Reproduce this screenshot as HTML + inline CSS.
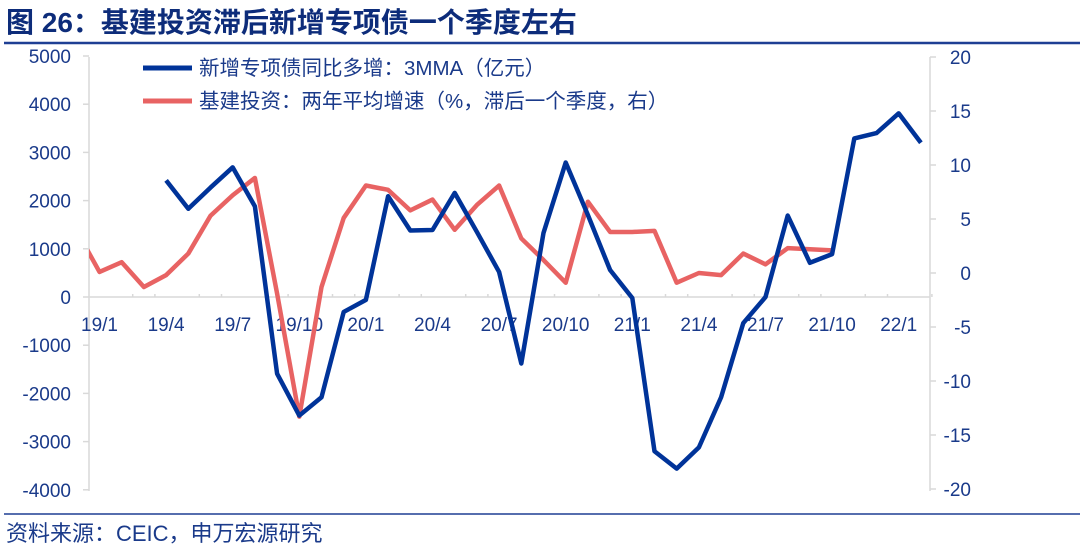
<!DOCTYPE html>
<html><head><meta charset="utf-8">
<style>
body{margin:0;background:#fff;}
svg{display:block;font-family:"Liberation Sans","Noto Sans CJK SC",sans-serif;}
</style></head>
<body>
<svg id="chart" width="1080" height="550" viewBox="0 0 1080 550">
<text x="6" y="32" font-size="28" font-weight="bold" fill="#0d2c7a">图 26：基建投资滞后新增专项债一个季度左右</text>
<line x1="4" y1="43" x2="1080" y2="43" stroke="#1e3f94" stroke-width="2.5"/>
<line x1="89" y1="57" x2="89" y2="491" stroke="#d9d9d9" stroke-width="1.5"/>
<line x1="930" y1="57" x2="930" y2="491" stroke="#d9d9d9" stroke-width="1.5"/>
<g id="ticks"></g>
<g id="series"></g>
<line x1="143" y1="68" x2="192" y2="68" stroke="#003399" stroke-width="5"/>
<text x="199" y="75" font-size="20.5" fill="#1a3a8a">新增专项债同比多增：3MMA（亿元）</text>
<line x1="143" y1="101" x2="192" y2="101" stroke="#e86363" stroke-width="5"/>
<text x="199" y="108" font-size="20.5" fill="#1a3a8a">基建投资：两年平均增速（%，滞后一个季度，右）</text>
<line x1="4" y1="514" x2="1080" y2="514" stroke="#1e3f94" stroke-width="1.5"/>
<text x="6" y="541" font-size="22" fill="#1a3a8a">资料来源：CEIC，申万宏源研究</text>
</svg>
<script>
const months=["19/1","19/2","19/3","19/4","19/5","19/6","19/7","19/8","19/9","19/10","19/11","19/12","20/1","20/2","20/3","20/4","20/5","20/6","20/7","20/8","20/9","20/10","20/11","20/12","21/1","21/2","21/3","21/4","21/5","21/6","21/7","21/8","21/9","21/10","21/11","21/12","22/1","22/2"];
const xLabels=["19/1","19/4","19/7","19/10","20/1","20/4","20/7","20/10","21/1","21/4","21/7","21/10","22/1"];
const leftTicks=[5000,4000,3000,2000,1000,0,-1000,-2000,-3000,-4000];
const rightTicks=[20,15,10,5,0,-5,-10,-15,-20];
const bondValues=[null,null,null,2420,1830,2270,2690,1880,-1590,-2460,-2080,-310,-60,2090,1380,1390,2160,1350,520,-1380,1330,2790,1700,560,-20,-3200,-3560,-3120,-2080,-540,0,1690,710,890,3290,3400,3810,3200];
const infraPrev=3.8;
const infraValues=[0.1,1.0,-1.3,-0.2,1.8,5.3,7.2,8.8,-1.9,-13.3,-1.3,5.1,8.1,7.7,5.8,6.8,4.0,6.3,8.1,3.2,1.2,-0.9,6.6,3.8,3.8,3.9,-0.9,0,-0.2,1.8,0.8,2.3,2.2,2.1];
const NS="http://www.w3.org/2000/svg";
const X0=89,X1=930,step=22.2,firstX=99.5;
function xAt(i){return firstX+i*step;}
function yL(v){return 297-v*0.0482;}
function yR(v){return 273-v*10.8;}
const tg=document.getElementById('ticks'), sg=document.getElementById('series');
function mk(tag,attrs,parent){const e=document.createElementNS(NS,tag);for(const k in attrs)e.setAttribute(k,attrs[k]);parent.appendChild(e);return e;}
let el=mk('line',{x1:X0,y1:yL(0),x2:X1,y2:yL(0),stroke:'#d9d9d9','stroke-width':1.5},tg);


leftTicks.forEach(v=>{
  let t=mk('line',{x1:X0-6,y1:yL(v),x2:X0,y2:yL(v),stroke:'#d9d9d9','stroke-width':1.5},tg);
  
  
  let tx=mk('text',{x:71,y:yL(v)+7,'font-size':19,fill:'#1a3a8a','text-anchor':'end'},tg);
  tx.textContent=v;
  
  
});
rightTicks.forEach(v=>{
  let t=mk('line',{x1:X1,y1:yR(v),x2:X1+6,y2:yR(v),stroke:'#d9d9d9','stroke-width':1.5},tg);
  
  
  let tx=mk('text',{x:971,y:yR(v)+7,'font-size':19,fill:'#1a3a8a','text-anchor':'end'},tg);
  tx.textContent=v;
  
  
});
months.forEach((m,i)=>{
  const major=xLabels.includes(m);
  let t=mk('line',{x1:xAt(i)+11,y1:yL(0)-(major?0:3),x2:xAt(i)+11,y2:yL(0),stroke:'#d9d9d9','stroke-width':1.5},tg);
  
  
  if(major){
    let tx=mk('text',{x:xAt(i),y:331,'font-size':19,fill:'#1a3a8a','text-anchor':'middle'},tg);
    tx.textContent=m;
    
    
  }
});
mk('clipPath',{id:'plotclip'},mk('defs',{},sg));
mk('rect',{x:X0,y:40,width:X1-X0,height:470},sg.querySelector('clipPath'));
let rp=[[xAt(-1),yR(infraPrev)]].concat(infraValues.map((v,i)=>[xAt(i),yR(v)]));
let red=mk('polyline',{points:rp.map(p=>p.join(',')).join(' '),fill:'none',stroke:'#e86363','stroke-width':4.5,'stroke-linejoin':'round','clip-path':'url(#plotclip)'},sg);


let bp=[];bondValues.forEach((v,i)=>{if(v!==null)bp.push([xAt(i),yL(v)]);});
let blue=mk('polyline',{points:bp.map(p=>p.join(',')).join(' '),fill:'none',stroke:'#003399','stroke-width':4.5,'stroke-linejoin':'round'},sg);


</script>
</body></html>
